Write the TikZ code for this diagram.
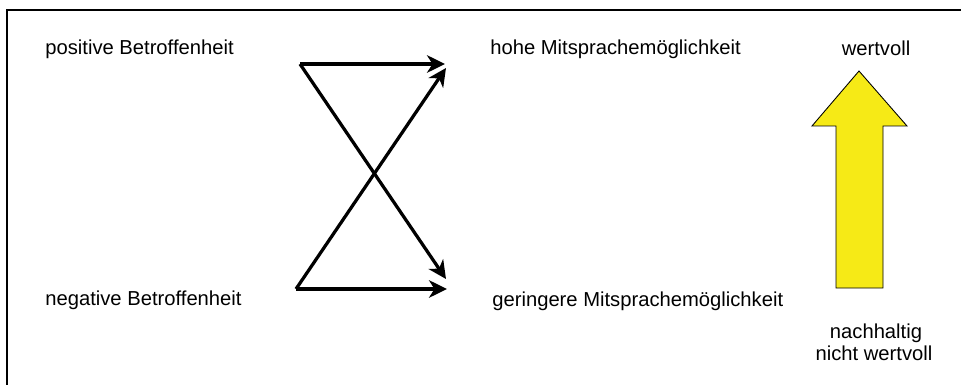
\documentclass[tikz,border=0pt]{standalone}
\usepackage{fontspec}
\setmainfont{Liberation Sans}
\usepackage{xcolor}
\usetikzlibrary{arrows.meta,positioning}

\definecolor{arrowyellow}{RGB}{246,234,22}

\begin{document}
\begin{tikzpicture}[x=0.02cm, y=-0.02cm,
  txt/.style={inner sep=0pt, font=\fontsize{11.5}{13}\selectfont},
  frame/.style={draw=black, line width=0.04cm},
  flow/.style={-{Stealth[length=3.6mm, width=3.5mm, inset=1.1mm]}, line width=0.065cm, draw=black},
  bigarrow/.style={draw=black, line width=0.5pt, fill=arrowyellow}
]
\useasboundingbox (0,0) rectangle (961,385);
\draw[frame] (7,385) -- (7,10) -- (961,10);

\node[txt, anchor=base west] (pos) at (45,55) {positive Betroffenheit};
\node[txt, anchor=base west] (neg) at (45,305) {negative Betroffenheit};
\node[txt, anchor=base west] (hoch) at (490,55) {hohe Mitsprachemöglichkeit};
\node[txt, anchor=base west] (gering) at (492,306) {geringere Mitsprachemöglichkeit};
\node[txt, anchor=base] (wert) at (876,56) {wertvoll};
\node[txt, anchor=base] (nachh) at (876,338) {nachhaltig};
\node[txt, anchor=base] (nichtw) at (874,360) {nicht wertvoll};

\coordinate (posout) at (300,64);
\coordinate (negout) at (296,289);
\coordinate (hochin) at (445,64);
\coordinate (hochdiag) at (446,68);
\coordinate (geringin) at (447,289);
\coordinate (geringdiag) at (446,279);

\draw[flow] (posout) -- (hochin);
\draw[flow] (posout) -- (geringdiag);
\draw[flow] (negout) -- (hochdiag);
\draw[flow] (negout) -- (geringin);

\draw[bigarrow] (836,288) -- (836,126) -- (812,126) -- (859,71)
  -- (907,126) -- (883,126) -- (883,288) -- cycle;
\end{tikzpicture}
\end{document}
